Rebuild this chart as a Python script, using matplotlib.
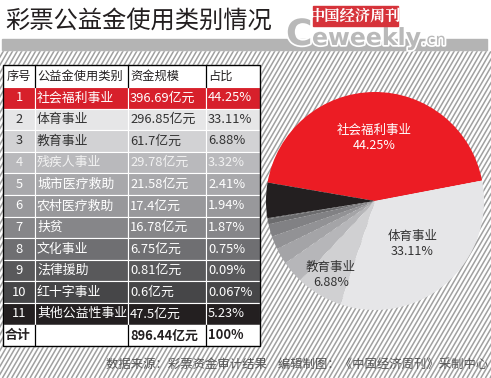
import numpy as np
import matplotlib.pyplot as plt
from matplotlib.patches import Rectangle
import matplotlib.patheffects as pe

plt.rcParams['font.family'] = ['Noto Sans CJK SC', 'DejaVu Sans']

# data
seq = ['1', '2', '3', '4', '5', '6', '7', '8', '9', '10', '11']
uses = ['社会福利事业', '体育事业', '教育事业', '残疾人事业', '城市医疗救助', '农村医疗救助',
        '扶贫', '文化事业', '法律援助', '红十字事业', '其他公益性事业']
amounts = ['396.69亿元', '296.85亿元', '61.7亿元', '29.78亿元', '21.58亿元', '17.4亿元',
           '16.78亿元', '6.75亿元', '0.81亿元', '0.6亿元', '47.5亿元']
shares = [44.25, 33.11, 6.88, 3.32, 2.41, 1.94, 1.87, 0.75, 0.09, 0.067, 5.23]
share_txt = ['44.25%', '33.11%', '6.88%', '3.32%', '2.41%', '1.94%', '1.87%', '0.75%',
             '0.09%', '0.067%', '5.23%']
headers = ['序号', '公益金使用类别', '资金规模', '占比']
total_row = ['合计', '', '896.44亿元', '100%']

row_bg = ['#d7202b', '#e6e6e7', '#d2d2d4', '#b9b9bc', '#a8a8ab', '#98989b',
          '#868689', '#6f6f72', '#59595b', '#464648', '#231f20']
row_fg = ['white', '#333333', '#333333', '#f2f2f2', 'white', 'white',
          'white', 'white', 'white', 'white', 'white']
pie_col = ['#ec1c24', '#e6e6e8', '#d0d0d2', '#b6b6b9', '#a4a4a7', '#929295',
           '#818184', '#6c6c6e', '#5a5a5c', '#48484a', '#231f20']

W, H = 491, 378
fig = plt.figure(figsize=(W / 100, H / 100), dpi=100)
bg = fig.add_axes([0, 0, 1, 1])
bg.set_xlim(0, W)
bg.set_ylim(H, 0)
bg.axis('off')

# hatched background
for x0 in np.arange(-200, W + 10, 4.6):
    bg.plot([x0, x0 + (H - 50) * 0.58], [H, 50], color='#a0a0a0', lw=1.1,
            solid_capstyle='butt', zorder=0)
bg.add_patch(Rectangle((0, 0), W, 50, color='white', zorder=1))
bg.add_patch(Rectangle((2, 39), 485, 11, color='#b4b4b4', zorder=2))

# title and logo
bg.text(5, 21, '彩票公益金使用类别情况', fontsize=17.5, color='#231f20',
        va='center', ha='left', zorder=3)
halo = [pe.withStroke(linewidth=2.5, foreground='white')]
bg.text(286, 45, 'C', fontsize=26, fontweight='bold', color='#b9b9b9',
        family='DejaVu Sans', va='baseline', ha='left', zorder=3, path_effects=halo)
bg.text(312, 45, 'eweekly', fontsize=17, fontweight='bold', color='#b9b9b9',
        family='DejaVu Sans', va='baseline', ha='left', zorder=3, path_effects=halo)
bg.text(421, 45, '.cn', fontsize=12, color='#b9b9b9', family='DejaVu Sans',
        va='baseline', ha='left', zorder=3, path_effects=halo)
bg.add_patch(Rectangle((313, 6), 85, 20, color='#d6333a', zorder=4))
bg.text(355.5, 16, '中国经济周刊', fontsize=11, fontweight='bold', color='white',
        family=['Noto Serif CJK SC', 'Noto Sans CJK SC'], va='center', ha='center', zorder=5)

# table
cx = [3, 35, 128, 206, 260]
top, hh, rh = 65, 22, 21.6
bg.add_patch(Rectangle((cx[0], top), cx[-1] - cx[0], hh, color='white', zorder=3))
for j, h in enumerate(headers):
    xt = (cx[0] + cx[1]) / 2 if j == 0 else cx[j] + 2
    bg.text(xt, top + hh / 2, h, fontsize=8.8, color='#231f20', va='center',
            ha='center' if j == 0 else 'left', zorder=5)
for i in range(len(seq)):
    y = top + hh + i * rh
    cells = [seq[i], uses[i], amounts[i], share_txt[i]]
    for j in range(4):
        bg.add_patch(Rectangle((cx[j], y), cx[j + 1] - cx[j], rh, facecolor=row_bg[i],
                               edgecolor='white', lw=0.8, zorder=3))
        xt = (cx[0] + cx[1]) / 2 if j == 0 else cx[j] + 2
        bg.text(xt, y + rh / 2, cells[j], fontsize=9.3, color=row_fg[i], va='center',
                ha='center' if j == 0 else 'left', zorder=5)
yt = top + hh + len(seq) * rh
bg.add_patch(Rectangle((cx[0], yt), cx[-1] - cx[0], rh, color='white', zorder=3))
for j, t in enumerate(total_row):
    bg.text(cx[j] + 2, yt + rh / 2, t, fontsize=9.3, fontweight='bold', color='#231f20',
            va='center', ha='left', zorder=5)
for j in range(1, 4):
    bg.plot([cx[j], cx[j]], [top, top + hh], color='black', lw=0.9, zorder=4)
    bg.plot([cx[j], cx[j]], [yt, yt + rh], color='black', lw=0.9, zorder=4)
bg.add_patch(Rectangle((cx[0], top), cx[-1] - cx[0], yt + rh - top, fill=False,
                       edgecolor='black', lw=1.0, zorder=4))

# footer
bg.text(488, 364, '数据来源：彩票资金审计结果    编辑制图：《中国经济周刊》采制中心',
        fontsize=8.9, color='#555555', ha='right', va='center', zorder=5)

# pie
cxp, cyp, r = 375, 201, 109
pax = fig.add_axes([(cxp - r) / W, (H - cyp - r) / H, 2 * r / W, 2 * r / H])
order = [0, 10, 9, 8, 7, 6, 5, 4, 3, 2, 1]
wedges, _ = pax.pie([shares[k] for k in order], colors=[pie_col[k] for k in order],
                    startangle=10.8, counterclock=True, radius=1,
                    wedgeprops=dict(linewidth=0))
pax.set_xlim(-1, 1)
pax.set_ylim(-1, 1)
pax.set_aspect('equal')


def put(idx, rad, color):
    w = wedges[order.index(idx)]
    a = np.deg2rad((w.theta1 + w.theta2) / 2)
    pax.text(rad * np.cos(a), rad * np.sin(a), uses[idx] + '\n' + share_txt[idx],
             ha='center', va='center', fontsize=9, color=color, linespacing=1.2)


put(0, 0.58, 'white')
put(1, 0.52, '#333333')
put(2, 0.79, '#333333')

fig.savefig('out.png', dpi=100)
